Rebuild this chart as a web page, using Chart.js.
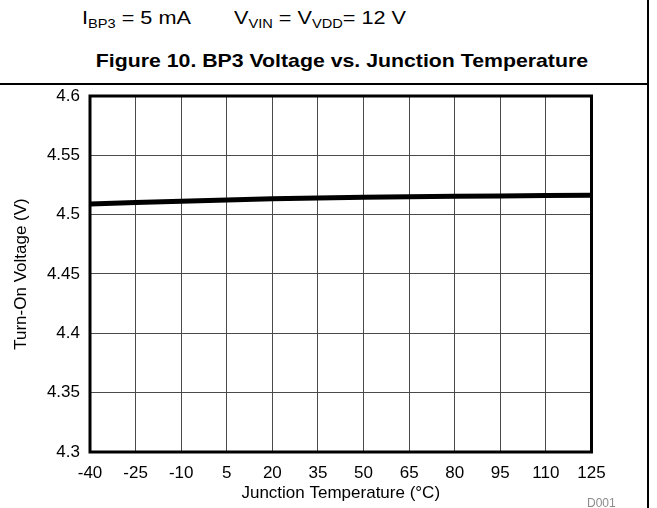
<!DOCTYPE html>
<html>
<head>
<meta charset="utf-8">
<title>BP3 Voltage vs. Junction Temperature</title>
<script src="https://cdn.jsdelivr.net/npm/chart.js@4.4.1/dist/chart.umd.min.js"></script>
<style>
  html, body { margin: 0; padding: 0; background: #fff; }
  body { width: 657px; height: 508px; position: relative; overflow: hidden;
         font-family: "Liberation Sans", Arial, sans-serif; color: #000; }
  #chart { position: absolute; left: 0; top: 0; }
  .cond { position: absolute; top: 7px; font-size: 18.5px; line-height: 22px; white-space: nowrap;
          transform: scaleX(1.17); transform-origin: left center; }
  .cond sub { font-size: 12.5px; vertical-align: -4px; line-height: 0; }
  #figTitle { position: absolute; right: 69px; top: 50px; font-size: 18.5px; font-weight: bold;
              line-height: 22px; white-space: nowrap;
              transform: scaleX(1.15); transform-origin: right center; }
  #rule { position: absolute; left: 0; top: 83px; width: 648px; height: 0; border-top: 2px solid #000; }
  #frame { position: absolute; left: 647px; top: 0; width: 0; height: 508px; border-left: 2px solid #000; }
  #code { position: absolute; left: 587px; top: 496px; font-size: 12px; color: #8c8c8c; }
</style>
</head>
<body>
<div class="cond" style="left:82px">I<sub>BP3</sub> = 5 mA</div>
<div class="cond" style="left:234px">V<sub>VIN</sub> = V<sub>VDD</sub>= 12 V</div>
<div id="figTitle">Figure 10. BP3 Voltage vs. Junction Temperature</div>
<div id="rule"></div>
<div id="frame"></div>
<canvas id="chart" width="657" height="508"></canvas>
<div id="code">D001</div>

<script>
// Turn-on voltage of BP3 over junction temperature
const temps = [-40, -25, -10, 5, 20, 35, 50, 65, 80, 95, 110, 125];
const turnOnVoltage = [4.509, 4.5102, 4.5113, 4.5124, 4.5134, 4.5141, 4.5146, 4.5151, 4.5155, 4.5158, 4.5161, 4.5163];

const xTicks = [-40, -25, -10, 5, 20, 35, 50, 65, 80, 95, 110, 125];
const yTicks = [4.3, 4.35, 4.4, 4.45, 4.5, 4.55, 4.6];
const yLabels = ['4.3', '4.35', '4.4', '4.45', '4.5', '4.55', '4.6'];

const FONT = '"Liberation Sans", Arial, sans-serif';

// outline the plot area with a heavy black frame
const plotFrame = {
  id: 'plotFrame',
  afterDraw(chart) {
    const { ctx, chartArea: a } = chart;
    ctx.save();
    ctx.strokeStyle = '#000';
    ctx.lineWidth = 3;
    ctx.strokeRect(a.left, a.top, a.right - a.left, a.bottom - a.top);
    ctx.restore();
  }
};

new Chart(document.getElementById('chart'), {
  type: 'line',
  data: {
    datasets: [{
      data: temps.map((t, i) => ({ x: t, y: turnOnVoltage[i] })),
      borderColor: '#000',
      borderWidth: 5,
      pointRadius: 0,
      tension: 0,
      fill: false
    }]
  },
  options: {
    responsive: false,
    animation: false,
    devicePixelRatio: 1,
    layout: { padding: { top: 96, right: 65.5, bottom: 0, left: 0 } },
    plugins: { legend: { display: false }, tooltip: { enabled: false } },
    scales: {
      x: {
        type: 'linear',
        min: -40,
        max: 125,
        afterBuildTicks: s => { s.ticks = xTicks.map(v => ({ value: v })); },
        afterFit: s => { s.height = 56; },
        ticks: {
          color: '#000',
          font: { family: FONT, size: 17 },
          padding: 11,
          maxRotation: 0,
          autoSkip: false,
          callback: v => String(v)
        },
        grid: { color: '#4a4a4a', lineWidth: 1, drawTicks: false },
        border: { display: false },
        title: {
          display: true,
          text: 'Junction Temperature (°C)',
          color: '#000',
          font: { family: FONT, size: 17 },
          padding: { top: 0, bottom: 4 }
        }
      },
      y: {
        type: 'linear',
        min: 4.3,
        max: 4.6,
        afterBuildTicks: s => { s.ticks = yTicks.map(v => ({ value: v })); },
        afterFit: s => { s.width = 90; },
        ticks: {
          color: '#000',
          font: { family: FONT, size: 17 },
          padding: 10,
          autoSkip: false,
          callback: (v, i) => yLabels[i]
        },
        grid: { color: '#4a4a4a', lineWidth: 1, drawTicks: false },
        border: { display: false },
        title: {
          display: true,
          text: 'Turn-On Voltage (V)',
          color: '#000',
          font: { family: FONT, size: 17 },
          padding: { top: 11, bottom: 0 }
        }
      }
    }
  },
  plugins: [plotFrame]
});
</script>
</body>
</html>
